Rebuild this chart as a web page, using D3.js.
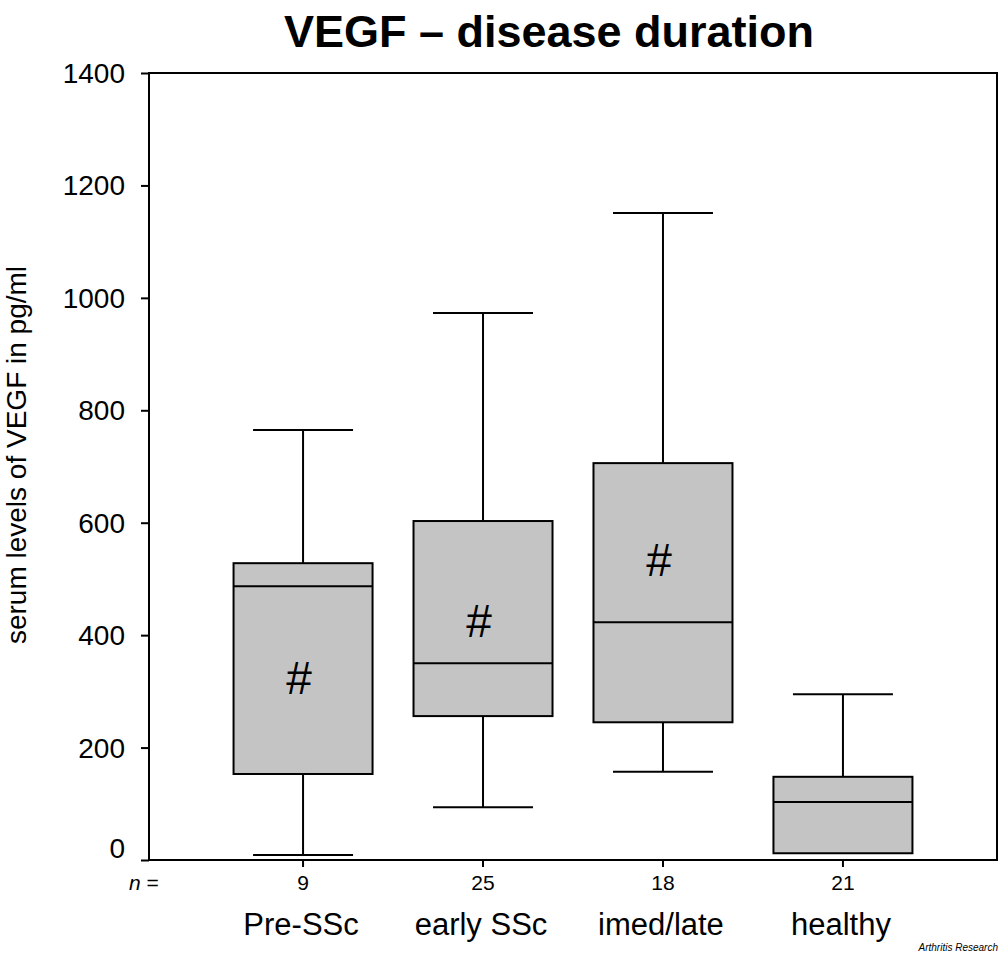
<!DOCTYPE html>
<html>
<head>
<meta charset="utf-8">
<script src="https://cdn.jsdelivr.net/npm/d3@7"></script>
<style>
  body { margin: 0; background: #fff; }
  text { font-family: "Liberation Sans", Arial, sans-serif; fill: #000; }
</style>
</head>
<body>
<div id="app"></div>
<script>
const groups = ["Pre-SSc", "early SSc", "imed/late", "healthy"];
const nCounts = ["9", "25", "18", "21"];
const whiskerLow = [9, 94, 157, 12];
const q1 = [153, 256, 245, 12];
const median = [487, 350, 423, 103];
const q3 = [528, 603, 706, 148];
const whiskerHigh = [765, 973, 1151, 295];
// "#" marks and the value level where they sit
const marks = ["#", "#", "#", ""];
const markLevel = [325, 427, 534, 0];
const yTicks = [0, 200, 400, 600, 800, 1000, 1200, 1400];

const w = 1000;
const h = 953;
const margin = { top: 73, right: 3, bottom: 93, left: 149 };

const svg = d3.select("#app").append("svg").attr("width", w).attr("height", h);

const x = d3.scalePoint()
  .domain(groups)
  .range([margin.left, w - margin.right])
  .padding(0.856);

const y = d3.scaleLinear()
  .domain([0, 1400])
  .range([h - margin.bottom, margin.top]);

const boxW = 139;
const capW = 100;

// title
svg.append("text")
  .attr("x", 549)
  .attr("y", 47)
  .attr("text-anchor", "middle")
  .style("font-size", "45px")
  .style("font-weight", "bold")
  .text("VEGF \u2013 disease duration");

// y axis
const yAxis = svg.append("g")
  .attr("transform", `translate(${margin.left},0)`)
  .call(d3.axisLeft(y).tickValues(yTicks).tickFormat(d3.format("d")).tickSize(8).tickPadding(16));
yAxis.select(".domain").remove();
yAxis.selectAll(".tick line").attr("stroke", "#000").attr("stroke-width", 2);
yAxis.selectAll(".tick text")
  .style("font-size", "28px")
  .attr("dy", (d) => (d === 0 ? "-0.08em" : "0.34em"));

svg.append("text")
  .attr("transform", `translate(26,455) rotate(-90)`)
  .attr("text-anchor", "middle")
  .style("font-size", "28px")
  .text("serum levels of VEGF in pg/ml");

// boxes
const rows = groups.map((g, i) => ({ g, i }));
const box = svg.append("g").selectAll("g").data(rows).enter().append("g");

box.append("line")
  .attr("x1", (d) => x(d.g)).attr("x2", (d) => x(d.g))
  .attr("y1", (d) => y(whiskerHigh[d.i])).attr("y2", (d) => y(whiskerLow[d.i]))
  .attr("stroke", "#000").attr("stroke-width", 2);

box.append("line")
  .attr("x1", (d) => x(d.g) - capW / 2).attr("x2", (d) => x(d.g) + capW / 2)
  .attr("y1", (d) => y(whiskerHigh[d.i])).attr("y2", (d) => y(whiskerHigh[d.i]))
  .attr("stroke", "#000").attr("stroke-width", 2);

box.append("line")
  .attr("x1", (d) => x(d.g) - capW / 2).attr("x2", (d) => x(d.g) + capW / 2)
  .attr("y1", (d) => y(whiskerLow[d.i])).attr("y2", (d) => y(whiskerLow[d.i]))
  .attr("stroke", "#000").attr("stroke-width", 2)
  .style("display", (d) => (whiskerLow[d.i] === q1[d.i] ? "none" : null));

box.append("rect")
  .attr("x", (d) => x(d.g) - boxW / 2)
  .attr("width", boxW)
  .attr("y", (d) => y(q3[d.i]))
  .attr("height", (d) => y(q1[d.i]) - y(q3[d.i]))
  .attr("fill", "#c4c4c4")
  .attr("stroke", "#000").attr("stroke-width", 2);

box.append("line")
  .attr("x1", (d) => x(d.g) - boxW / 2).attr("x2", (d) => x(d.g) + boxW / 2)
  .attr("y1", (d) => y(median[d.i])).attr("y2", (d) => y(median[d.i]))
  .attr("stroke", "#000").attr("stroke-width", 2);

box.append("text")
  .attr("x", (d) => x(d.g) - 4)
  .attr("y", (d) => y(markLevel[d.i]))
  .attr("dy", "0.36em")
  .attr("text-anchor", "middle")
  .style("font-size", "46px")
  .text((d) => marks[d.i]);

// frame
svg.append("rect")
  .attr("x", margin.left).attr("y", margin.top)
  .attr("width", w - margin.right - margin.left)
  .attr("height", h - margin.bottom - margin.top)
  .attr("fill", "none").attr("stroke", "#000").attr("stroke-width", 2);

// bottom ticks
svg.append("g").selectAll("line").data(groups).enter().append("line")
  .attr("x1", (d) => x(d)).attr("x2", (d) => x(d))
  .attr("y1", y(0)).attr("y2", y(0) + 7)
  .attr("stroke", "#000").attr("stroke-width", 2);

// n row
svg.append("text")
  .attr("x", 129).attr("y", 890)
  .style("font-size", "21px")
  .html('<tspan font-style="italic">n</tspan> =');

svg.append("g").selectAll("text").data(groups).enter().append("text")
  .attr("x", (d) => x(d)).attr("y", 890)
  .attr("text-anchor", "middle")
  .style("font-size", "21px")
  .text((d, i) => nCounts[i]);

svg.append("g").selectAll("text").data(groups).enter().append("text")
  .attr("x", (d) => x(d) - 2).attr("y", 935)
  .attr("text-anchor", "middle")
  .style("font-size", "31px")
  .text((d) => d);

svg.append("text")
  .attr("x", 998).attr("y", 951)
  .attr("text-anchor", "end")
  .style("font-size", "10px")
  .style("font-style", "italic")
  .text("Arthritis Research");
</script>
</body>
</html>
